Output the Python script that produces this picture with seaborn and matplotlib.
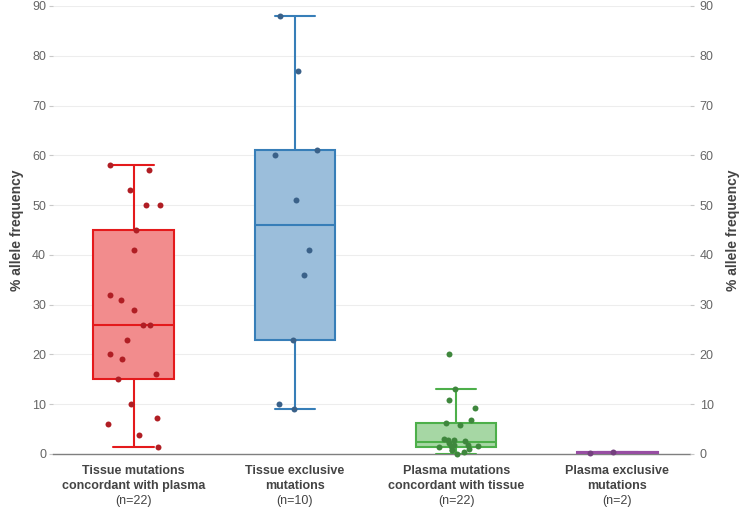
import numpy as np
import pandas as pd
import matplotlib
matplotlib.use("Agg")
import matplotlib.pyplot as plt
import matplotlib.transforms as mtransforms
import seaborn as sns

# ---------------- data ----------------
categories = [
    "Tissue mutations\nconcordant with plasma",
    "Tissue exclusive\nmutations",
    "Plasma mutations\nconcordant with tissue",
    "Plasma exclusive\nmutations",
]
count_labels = ["(n=22)", "(n=10)", "(n=22)", "(n=2)"]

tissue_concordant = [58, 57, 53, 50, 50, 45, 41, 32, 31, 29, 26, 26, 23, 20, 19,
                     16, 15, 10, 7.3, 6, 3.8, 1.4]
tissue_exclusive = [88, 77, 61, 60, 51, 41, 36, 23, 10, 9]
plasma_concordant = [20, 13, 10.8, 9.2, 6.9, 6.2, 5.9, 3.0, 2.9, 2.8, 2.6, 2.3,
                     1.9, 1.9, 1.7, 1.6, 1.5, 1.1, 0.9, 0.8, 0.5, 0.0]
plasma_exclusive = [0.4, 0.3]

y_ticks = [0, 10, 20, 30, 40, 50, 60, 70, 80, 90]

series = [tissue_concordant, tissue_exclusive, plasma_concordant, plasma_exclusive]
df = pd.DataFrame({
    "group": np.concatenate([[c] * len(v) for c, v in zip(categories, series)]),
    "value": np.concatenate(series),
})

edge_colors = ["#E41A1C", "#377EB8", "#4DAF4A", "#984EA3"]
fill_colors = ["#F28C8D", "#9BBEDB", "#A6D7A4", "#CBA6D1"]
point_colors = ["#B01E24", "#3A6189", "#3F873D", "#74407E"]

# quartiles computed like the original (exclusive-style / hazen)
_percentile = np.percentile
def _hazen_percentile(a, q, *args, **kwargs):
    kwargs.setdefault("method", "hazen")
    return _percentile(a, q, *args, **kwargs)
np.percentile = _hazen_percentile

sns.set_theme(style="white")
plt.rcParams["font.family"] = ["Liberation Sans", "DejaVu Sans"]

W, H = 740, 522
fig = plt.figure(figsize=(W / 100, H / 100), dpi=100)
left_px, right_px, top_px, bottom_px = 53, 690, 6, 454
ax = fig.add_axes([left_px / W, (H - bottom_px) / H,
                   (right_px - left_px) / W, (bottom_px - top_px) / H])

for c, fc, ec in zip(categories, fill_colors, edge_colors):
    sub = df[df["group"] == c]
    sns.boxplot(data=sub, x="group", y="value", order=categories, ax=ax,
                color=fc, linecolor=ec, saturation=1, width=0.5,
                showfliers=False, linewidth=1.5, zorder=2)

np.random.seed(7)
for c, pc in zip(categories, point_colors):
    sub = df[df["group"] == c]
    sns.stripplot(data=sub, x="group", y="value", order=categories, ax=ax,
                  color=pc, jitter=0.17, size=4.3, linewidth=0, zorder=4,
                  clip_on=False)

ax.set_xlim(-0.5, 3.45)
ax.set_ylim(0, 90)
ax.set_yticks(y_ticks)
ax.set_yticklabels([str(t) for t in y_ticks])
ax.grid(axis="y", color="#EDEDED", linewidth=0.8, zorder=0)
ax.set_axisbelow(True)
for s in ["top", "right", "left"]:
    ax.spines[s].set_visible(False)
ax.spines["bottom"].set_color("#7F7F7F")
ax.spines["bottom"].set_linewidth(1.0)
ax.spines["bottom"].set_zorder(1)

ax.tick_params(axis="y", length=3, width=0.8, color="#C8C8C8", pad=2,
               labelsize=9, labelcolor="#666666")
ax.tick_params(axis="x", length=0, pad=8)
ax.set_xticks(range(len(categories)))
ax.set_xticklabels(categories, fontsize=9, fontweight="bold", color="#444444",
                   linespacing=1.35)
ax.set_xlabel("")
ax.set_ylabel("% allele frequency", fontsize=10, fontweight="bold",
              color="#444444", labelpad=6)

trans = mtransforms.blended_transform_factory(ax.transData, ax.transAxes)
for i, lab in enumerate(count_labels):
    ax.text(i, -0.1050, lab, transform=trans, ha="center", va="center",
            fontsize=9, color="#444444")

ax2 = ax.twinx()
ax2.set_ylim(ax.get_ylim())
ax2.set_yticks(y_ticks)
ax2.set_yticklabels([str(t) for t in y_ticks])
for s in ["top", "right", "left", "bottom"]:
    ax2.spines[s].set_visible(False)
ax2.tick_params(axis="y", length=3, width=0.8, color="#C8C8C8", pad=4,
                labelsize=9, labelcolor="#666666")
ax2.set_ylabel("% allele frequency", fontsize=10, fontweight="bold",
               color="#444444", rotation=90, labelpad=9)
ax2.grid(False)

fig.savefig("out.png", dpi=100)
